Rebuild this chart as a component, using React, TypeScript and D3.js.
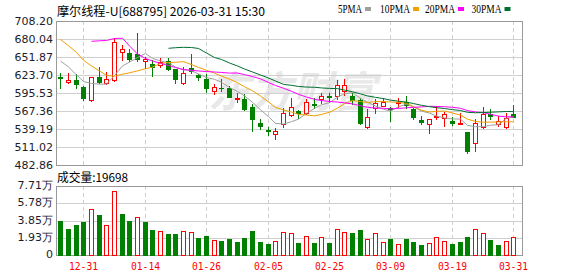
import React from 'react';
import * as d3 from 'd3';

const dates = ["12-26","12-29","12-30","12-31","01-05","01-06","01-07","01-08","01-09","01-12",
  "01-13","01-14","01-15","01-16","01-19","01-20","01-21","01-22","01-23","01-26",
  "01-27","01-28","01-29","01-30","02-02","02-03","02-04","02-05","02-06","02-09",
  "02-10","02-11","02-12","02-13","02-24","02-25","02-26","02-27","03-02","03-03",
  "03-04","03-05","03-06","03-09","03-10","03-11","03-12","03-13","03-16","03-17",
  "03-18","03-19","03-20","03-23","03-24","03-25","03-26","03-27","03-30","03-31"];

const tickDates = ["12-31","01-14","01-26","02-05","02-25","03-09","03-19","03-31"];

const opens = [620.5,612.3,615.9,604.9,585.0,620.1,610.7,615.4,660.2,657.7,
  655.8,646.1,640.9,640.1,645.1,632.6,611.6,634.2,624.2,617.4,
  598.7,603.8,602.9,587.2,586.6,573.2,549.1,538.4,530.6,547.8,
  561.1,567.4,564.2,578.3,586.9,590.8,590.1,599.4,591.6,584.6,
  541.9,572.8,575.2,571.3,579.4,581.0,570.0,553.3,547.8,557.2,
  556.9,551.7,548.0,534.5,516.8,541.9,562.7,547.0,541.9,562.7];
const highs = [627.3,627.3,625.3,606.5,620.8,636.2,627.9,681.1,670.6,664.9,
  689.4,652.3,647.2,649.8,649.8,633.0,636.2,656.6,626.0,625.3,
  609.1,617.9,606.5,595.0,594.0,578.3,554.4,543.1,541.5,571.3,
  587.2,568.9,586.9,587.2,596.3,595.5,615.9,616.7,595.0,587.2,
  570.5,586.1,587.2,574.1,587.2,590.8,572.8,559.5,555.6,575.2,
  565.8,557.2,564.2,534.8,554.4,573.1,570.0,558.8,563.8,576.7];
const lows = [603.8,611.8,602.9,584.6,583.5,610.7,610.2,614.8,646.4,645.1,
  645.6,634.6,622.6,635.7,632.3,610.4,609.6,626.4,615.9,597.6,
  594.0,599.1,589.3,581.0,568.9,536.1,538.7,529.8,523.1,542.8,
  559.5,555.9,563.4,571.6,579.4,581.4,586.9,592.4,578.3,547.0,
  541.5,564.2,574.8,552.2,573.1,572.5,554.4,547.0,533.7,554.9,
  543.9,545.5,546.5,502.4,505.2,541.5,555.6,543.9,541.5,558.0];
const closes = [618.5,615.9,610.1,587.2,620.1,613.2,617.0,675.8,663.9,649.0,
  649.5,648.9,636.7,644.8,633.1,617.4,626.4,630.0,620.1,604.1,
  604.4,602.9,589.7,588.2,570.0,554.1,544.4,535.8,536.4,563.8,
  572.9,564.2,580.7,576.0,591.6,589.3,607.3,607.6,583.8,548.1,
  557.5,579.1,581.4,570.5,582.0,576.3,558.0,549.4,554.4,559.1,
  562.7,549.1,548.3,505.2,548.6,563.4,560.0,551.7,556.4,558.4];
const prevCloseBefore = 624.0;

const volumes = [38270,29260,33770,36350,51440,45020,33430,71700,46150,38270,
  42430,36350,28140,26670,23640,23640,26670,25550,19130,21050,
  16550,15760,18010,14970,19130,27010,14630,12380,15760,25550,
  24420,13510,21050,13510,19920,13510,28930,25890,24760,28140,
  17670,24420,14290,18010,12040,18010,14630,11260,13170,19920,
  15760,12380,14630,20260,28930,24760,16880,11260,15760,19698];

const ma5 = [645.6,636.2,623.7,613.5,610.5,609.3,609.5,622.7,638.0,643.8,
  651.0,657.4,649.6,645.8,642.6,636.2,631.7,630.3,625.4,619.6,
  617.0,612.3,604.2,597.9,591.0,581.0,569.3,558.5,548.1,546.9,
  550.7,554.6,563.6,571.5,577.1,580.4,589.0,594.4,595.9,587.2,
  580.9,575.2,570.0,567.3,574.1,577.9,573.6,567.2,564.0,559.4,
  556.7,554.9,554.7,544.9,542.8,542.9,545.1,545.8,556.0,558.0];
const ma10 = [679.2,669.5,659.2,646.7,637.8,630.0,623.2,621.8,624.9,627.1,
  630.2,633.5,636.1,641.9,643.2,643.6,644.6,640.0,635.6,631.1,
  626.6,622.0,617.3,611.6,605.3,599.0,590.8,581.4,573.0,569.0,
  565.8,562.0,561.1,559.8,562.0,565.5,571.8,579.0,583.7,582.2,
  580.6,582.1,582.2,581.6,580.7,579.4,574.4,568.6,565.7,566.8,
  567.3,564.3,561.0,554.5,551.1,549.8,550.0,550.3,550.5,550.4];
const ma20 = [null,null,null,null,676.4,677.2,677.7,680.8,681.3,669.1,
  656.6,649.5,645.6,642.0,638.6,635.4,632.3,631.1,630.0,629.1,
  628.4,627.7,626.7,626.8,624.3,621.3,617.7,612.0,607.3,603.0,
  598.2,593.5,589.2,585.7,583.7,582.3,581.3,580.2,578.4,575.6,
  573.2,572.0,571.6,570.7,571.3,572.4,573.1,573.8,574.7,574.5,
  574.0,573.2,571.6,568.0,565.9,564.6,562.2,559.4,558.1,558.6];
const ma30 = [null,null,null,null,null,null,null,null,null,null,
  null,null,null,null,665.5,666.4,667.0,666.7,665.2,658.1,
  651.1,648.0,642.5,637.8,633.1,628.4,623.7,619.0,614.3,609.1,
  607.5,605.8,604.8,604.5,603.5,602.7,602.4,600.1,597.4,594.1,
  591.0,588.7,586.8,584.4,582.7,581.3,579.0,576.3,574.1,572.6,
  571.2,569.5,568.1,565.3,564.6,564.9,565.4,566.0,566.6,566.4];

const priceTicks = [708.20, 680.04, 651.87, 623.70, 595.53, 567.36, 539.19, 511.02, 482.86];
const volTicks = [77100, 57825, 38550, 19275, 0];
const volTickLabels = ["7.71万", "5.78万", "3.85万", "1.93万", "0"];

const maNames = ["5PMA", "10PMA", "20PMA", "30PMA"];
const maSeries = [ma5, ma10, ma20, ma30];
const maColors = ["#a0a0a0", "#f0a000", "#ff00ff", "#006f30"];

const title = "摩尔线程-U[688795] 2026-03-31 15:30";
const volTitle = "成交量:19698";

const RED = "#ff0000";
const GREEN = "#008000";

export default function App() {
  const W = 578, H = 276;
  const left = 56, right = 522;
  const pTop = 21, pBot = 165;
  const vTop = 186, vBot = 255;

  const x = d3.scaleBand<string>().domain(dates).range([56.3, 517.1]);
  const cx = (i: number) => Math.round((x(dates[i]) as number) + x.bandwidth() / 2);
  const y = d3.scaleLinear().domain([482.86, 708.20]).range([pBot, pTop]);
  const yv = d3.scaleLinear().domain([0, 77100]).range([vBot, vTop]);

  const line = d3.line<number | null>()
    .defined(d => d != null)
    .x((_, i) => cx(i) + 0.5)
    .y(d => y(d as number));

  const monoSans = "'DejaVu Sans', sans-serif";
  const cjk = "'Noto Sans CJK SC', sans-serif";

  return (
    <svg width={W} height={H} style={{ position: 'absolute', left: 0, top: 0, background: '#fff' }}
      xmlns="http://www.w3.org/2000/svg">
      <rect x={0} y={0} width={W} height={H} fill="#fff" />
      {/* watermark */}
      <text x={292} y={107} textAnchor="middle" fontFamily={cjk} fontSize={42} fontWeight="bold"
        fontStyle="italic" fill="#e8e8e8">东方财富</text>

      {/* title */}
      <text x={57} y={16} fontFamily={cjk} fontSize={12} fill="#000" textLength={208}
        lengthAdjust="spacingAndGlyphs">{title}</text>

      {/* legend */}
      {maNames.map((n, k) => {
        const starts = [338, 380, 425, 471.5];
        const w = n.length * 6;
        return (
          <g key={n}>
            <text x={starts[k]} y={13} fontFamily="'Liberation Serif', serif" fontSize={12} fill="#000"
              textLength={w} lengthAdjust="spacingAndGlyphs">{n}</text>
            <rect x={starts[k] + w + 3} y={7} width={6} height={4} fill={maColors[k]} />
          </g>
        );
      })}

      {/* price grid */}
      {priceTicks.map((t, k) => (
        <g key={'pg' + k}>
          {k > 0 && k < priceTicks.length - 1 && (
            <line x1={left} x2={right} y1={Math.round(y(t)) + 0.5} y2={Math.round(y(t)) + 0.5}
              stroke="#cfcfcf" strokeWidth={1} />
          )}
          <text x={53} y={Math.max(Math.round(y(t)), 18)} dy="0.36em" textAnchor="end"
            fontFamily={monoSans} fontSize={11} fill="#1c1c2c">{t.toFixed(2)}</text>
        </g>
      ))}

      {/* volume grid */}
      {volTicks.map((t, k) => (
        <g key={'vg' + k}>
          {k > 0 && k < volTicks.length - 1 && (
            <line x1={left} x2={right} y1={Math.round(yv(t)) + 0.5} y2={Math.round(yv(t)) + 0.5}
              stroke="#cfcfcf" strokeWidth={1} />
          )}
          <text x={53} y={Math.round(yv(t)) - 1} dy="0.36em" textAnchor="end"
            fontFamily={monoSans} fontSize={11} fill="#1c1c2c">{volTickLabels[k]}</text>
        </g>
      ))}

      {/* vertical dashed lines + x labels */}
      {tickDates.map(d => {
        const i = dates.indexOf(d);
        const xx = cx(i) + 0.5;
        return (
          <g key={'xt' + d}>
            <line x1={xx} x2={xx} y1={pTop} y2={pBot} stroke="#cfcfcf" strokeDasharray="4,3" />
            <line x1={xx} x2={xx} y1={vTop} y2={vBot} stroke="#cfcfcf" strokeDasharray="4,3" />
            <text x={xx} y={270} textAnchor="middle" fontFamily="'DejaVu Sans Mono', monospace" fontSize={11}
              fill={RED} textLength={29} lengthAdjust="spacingAndGlyphs">{d}</text>
          </g>
        );
      })}

      {/* panel borders */}
      <rect x={left + 0.5} y={pTop + 0.5} width={right - left} height={pBot - pTop} fill="none" stroke="#999" />
      <rect x={left + 0.5} y={vTop + 0.5} width={right - left} height={vBot - vTop} fill="none" stroke="#999" />

      {/* volume title */}
      <text x={57} y={182} fontFamily={cjk} fontSize={12} fill="#000" textLength={71}
        lengthAdjust="spacingAndGlyphs">{volTitle}</text>

      {/* volume bars */}
      {volumes.map((v, i) => {
        const prev = i === 0 ? prevCloseBefore : closes[i - 1];
        const up = closes[i] >= prev;
        const c = cx(i);
        const top = Math.round(yv(v));
        if (up) {
          return <rect key={'v' + i} x={c - 1.5} y={top + 0.5} width={4} height={vBot - top}
            fill="#fff" stroke={RED} strokeWidth={1} shapeRendering="crispEdges" />;
        }
        return <rect key={'v' + i} x={c - 2} y={top} width={5} height={vBot - top + 1}
          fill={GREEN} shapeRendering="crispEdges" />;
      })}

      {/* candles */}
      {opens.map((o, i) => {
        const c = closes[i];
        const up = c >= o;
        const xc = cx(i);
        const yh = Math.round(y(highs[i]));
        const yl = Math.round(y(lows[i]));
        const yo = Math.round(y(o));
        const yc = Math.round(y(c));
        const top = Math.min(yo, yc), bot = Math.max(yo, yc);
        const col = up ? RED : GREEN;
        return (
          <g key={'k' + i} shapeRendering="crispEdges">
            <line x1={xc + 0.5} x2={xc + 0.5} y1={yh} y2={top} stroke={col} />
            <line x1={xc + 0.5} x2={xc + 0.5} y1={bot + 1} y2={yl + 1} stroke={col} />
            {up ? (
              <rect x={xc - 1.5} y={top + 0.5} width={4} height={Math.max(bot - top, 1)}
                fill="#fff" stroke={col} />
            ) : (
              <rect x={xc - 2} y={top} width={5} height={Math.max(bot - top + 1, 1)} fill={col} />
            )}
          </g>
        );
      })}

      {/* moving averages */}
      {maSeries.map((s, k) => (
        <path key={'ma' + k} d={line(s) || ''} fill="none" stroke={maColors[k]} strokeWidth={1} />
      ))}
    </svg>
  );
}
